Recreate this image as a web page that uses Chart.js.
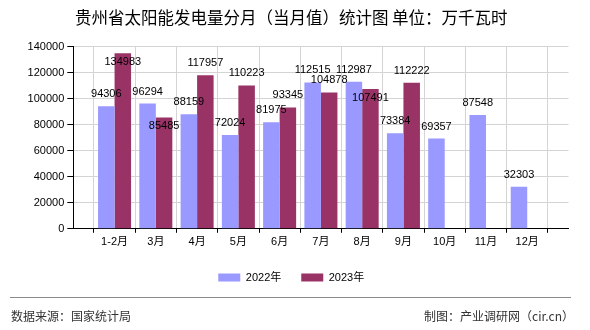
<!DOCTYPE html>
<html>
<head>
<meta charset="utf-8">
<script src="https://cdn.jsdelivr.net/npm/chart.js@4.4.1/dist/chart.umd.min.js"></script>
<style>
  html, body { margin: 0; padding: 0; background: #fff; }
  #wrap { position: relative; width: 590px; height: 330px; overflow: hidden; }
  #c { position: absolute; left: 0; top: 0; }
  .foot { position: absolute; font-family: "Noto Sans CJK SC", sans-serif; font-size: 12px; color: #333; line-height: 14px; top: 309px; white-space: nowrap; }
  #fline { position: absolute; left: 10px; top: 297px; width: 561px; height: 1px; background: #8c8c8c; }
</style>
</head>
<body>
<div id="wrap">
  <canvas id="c" width="590" height="330"></canvas>
  <div id="fline"></div>
  <div class="foot" style="left:11px;">数据来源：国家统计局</div>
  <div class="foot" style="right:16px;">制图：产业调研网（cir.cn）</div>
</div>
<script>
// ---- data ----
const categories = ['1-2月', '3月', '4月', '5月', '6月', '7月', '8月', '9月', '10月', '11月', '12月'];
const values2022 = [94306, 96294, 88159, 72024, 81975, 112515, 112987, 73384, 69357, 87548, 32303];
const values2023 = [134983, 85485, 117957, 110223, 93345, 104878, 107491, 112222, null, null, null];
const seriesNames = ['2022年', '2023年'];
const yTicks = [0, 20000, 40000, 60000, 80000, 100000, 120000, 140000];
const titleText = '贵州省太阳能发电量分月（当月值）统计图 单位：万千瓦时';

// ---- chart ----
const numFont = '"Liberation Sans", "Noto Sans CJK SC", sans-serif';
const pad = arr => [null, ...arr, null];
const labels = ['', ...categories, ''];

const dataLabelPlugin = {
  id: 'dataLabels',
  afterDatasetsDraw(chart) {
    const ctx = chart.ctx;
    const area = chart.chartArea;
    ctx.save();
    ctx.font = '11px ' + numFont;
    ctx.fillStyle = '#000';
    ctx.textAlign = 'center';
    ctx.textBaseline = 'middle';
    const placed = [];
    const h = 9;
    chart.data.datasets.forEach((ds, di) => {
      const meta = chart.getDatasetMeta(di);
      meta.data.forEach((el, i) => {
        const v = ds.data[i];
        if (v === null || v === undefined) return;
        const text = String(v);
        const w = ctx.measureText(text).width;
        let y = el.y - 12;
        const collide = (yy) => placed.some(p => Math.abs(p.x - el.x) < (p.w + w) / 2 && Math.abs(p.y - yy) < h);
        if (y - h / 2 < area.top || collide(y)) {
          y = el.y + 8.5;
        }
        placed.push({ x: el.x, y, w });
        ctx.fillText(text, el.x, y);
      });
    });
    ctx.restore();
  }
};

new Chart(document.getElementById('c'), {
  type: 'bar',
  data: {
    labels: labels,
    datasets: [
      { label: seriesNames[0], data: pad(values2022), backgroundColor: '#9999ff', borderWidth: 0 },
      { label: seriesNames[1], data: pad(values2023), backgroundColor: '#993366', borderWidth: 0 }
    ]
  },
  options: {
    responsive: false,
    animation: false,
    devicePixelRatio: 1,
    layout: { padding: { left: 14, right: 21.5, top: 0, bottom: 37 } },
    datasets: { bar: { categoryPercentage: 0.8, barPercentage: 1 } },
    plugins: {
      title: {
        display: true,
        text: titleText,
        color: '#000',
        font: { family: '"Noto Sans CJK SC", sans-serif', size: 16.5, weight: 'normal' },
        padding: { top: 8, bottom: 18.9 }
      },
      legend: {
        display: true,
        position: 'bottom',
        labels: {
          boxWidth: 22,
          boxHeight: 8,
          padding: 20,
          color: '#000',
          font: { family: numFont, size: 11 }
        }
      },
      tooltip: { enabled: false }
    },
    scales: {
      x: {
        offset: false,
        grid: { color: '#d4d4d4', tickColor: '#000', tickLength: 4, drawOnChartArea: true },
        border: { color: '#000', width: 1 },
        ticks: { color: '#000', autoSkip: false, maxRotation: 0, padding: 3, font: { family: numFont, size: 11 } }
      },
      y: {
        min: yTicks[0],
        max: yTicks[yTicks.length - 1],
        afterFit(scale) { scale.width = 59.3; },
        afterBuildTicks(scale) { scale.ticks = yTicks.map(v => ({ value: v })); },
        grid: { color: '#d4d4d4', tickColor: '#000', tickLength: 6 },
        border: { color: '#000', width: 1 },
        ticks: { color: '#000', padding: 3, font: { family: numFont, size: 11 }, callback: v => String(v) }
      }
    }
  },
  plugins: [dataLabelPlugin]
});
</script>
</body>
</html>
